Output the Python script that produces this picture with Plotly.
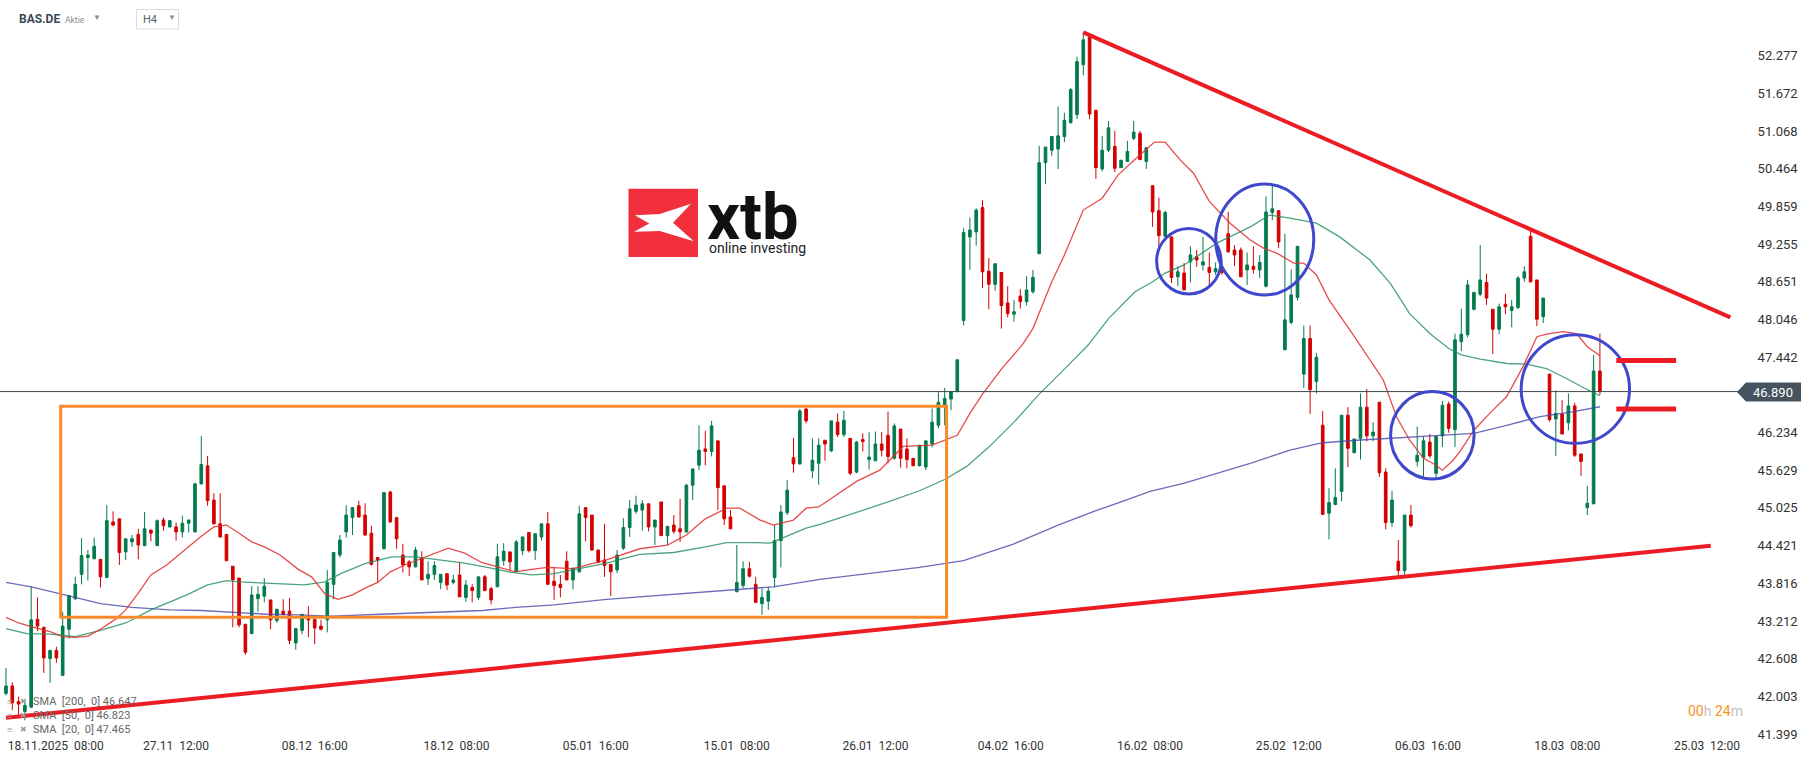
import plotly.graph_objects as go

# ---------------- DATA ----------------
FIRST_BAR = -5  # bar index of the first visible H4 candle (bar 0 = 18.11.2025 08:00)

opens = [
    42.05, 42.17, 41.92, 41.76, 41.83, 43.24, 43.11, 42.61, 42.74, 42.34,
    43.08, 43.57, 43.96, 44.23, 44.21, 44.20, 43.91, 44.80, 44.85, 44.32,
    44.48, 44.60, 44.42, 44.67, 44.42, 44.83, 44.72, 44.72, 44.64, 44.78,
    44.64, 45.41, 45.70, 45.15, 44.77, 44.60, 44.09, 43.90, 43.16, 43.01,
    43.57, 43.61, 43.55, 43.22, 43.37, 43.37, 42.86, 43.06, 43.25, 43.24,
    43.13, 43.23, 43.80, 44.27, 44.64, 44.87, 45.06, 44.91, 44.62, 44.23,
    44.37, 45.28, 44.87, 44.27, 44.16, 44.08, 44.22, 43.89, 43.96, 43.83,
    43.97, 43.83, 43.95, 43.59, 43.75, 43.59, 43.92, 43.73, 43.76, 44.18,
    44.32, 44.01, 44.34, 44.63, 44.34, 44.56, 44.77, 43.85, 43.80, 44.17,
    43.87, 44.00, 45.03, 44.91, 44.35, 44.19, 44.12, 44.03, 44.38, 44.71,
    44.97, 44.99, 45.09, 44.72, 45.12, 44.58, 44.75, 44.69, 44.64, 45.39,
    45.71, 45.97, 45.93, 46.10, 45.38, 44.88, 43.68, 43.78, 44.05, 43.80,
    43.49, 43.53, 43.91, 44.50, 44.95, 45.83, 45.73, 46.61, 45.62, 45.74,
    46.11, 45.94, 46.40, 46.20, 46.14, 45.60, 46.12, 45.80, 45.78, 46.05,
    46.19, 45.82, 46.29, 45.97, 45.82, 45.70, 45.68, 46.05, 46.35, 46.67,
    46.77, 46.89, 48.03, 49.37, 49.45, 49.84, 48.82, 48.61, 48.80, 48.31,
    48.13, 48.42, 48.33, 48.49, 49.10, 50.56, 50.76, 50.78, 50.98, 51.20,
    51.33, 52.13, 52.57, 51.40, 50.46, 50.76, 50.82, 50.48, 50.58, 50.95,
    51.03, 50.58, 50.19, 49.79, 49.38, 49.37, 48.73, 48.79, 48.97, 49.05,
    48.92, 48.88, 48.81, 48.86, 49.42, 49.16, 49.16, 48.84, 48.90, 48.84,
    48.58, 49.76, 49.79, 47.56, 48.00, 48.40, 47.17, 47.74, 47.05, 46.35,
    44.94, 45.08, 45.29, 46.51, 45.91, 46.14, 46.64, 46.18, 46.72, 45.60,
    44.79, 44.17, 44.02, 44.91, 45.77, 45.83, 46.08, 45.58, 46.18, 46.69,
    46.28, 47.69, 47.80, 48.21, 48.45, 48.64, 48.21, 47.89, 48.29, 48.19,
    48.24, 48.71, 49.38, 48.68, 48.09, 47.17, 46.45, 46.53, 46.39, 46.66,
    45.89, 45.03, 45.09, 47.22,
]
highs = [
    42.46, 42.23, 42.00, 41.94, 43.77, 43.59, 43.12, 42.75, 42.80, 43.36,
    43.62, 43.92, 44.54, 44.35, 44.55, 44.20, 45.07, 44.97, 44.85, 44.53,
    44.59, 44.69, 44.96, 44.67, 44.84, 44.87, 44.83, 44.79, 44.90, 44.84,
    45.43, 46.18, 45.86, 45.26, 45.26, 44.60, 44.09, 43.90, 43.16, 43.77,
    43.77, 43.90, 43.55, 43.40, 43.56, 43.58, 43.09, 43.32, 43.45, 43.24,
    43.23, 44.03, 44.31, 44.59, 45.07, 45.03, 45.14, 45.10, 44.74, 44.23,
    45.27, 45.30, 44.88, 44.45, 44.19, 44.40, 44.33, 44.17, 44.17, 43.96,
    43.97, 43.95, 44.15, 43.87, 43.80, 43.92, 43.95, 43.76, 44.45, 44.46,
    44.32, 44.51, 44.56, 44.63, 44.61, 44.77, 44.96, 44.08, 43.95, 44.33,
    44.06, 45.06, 45.03, 44.91, 44.35, 44.77, 44.12, 44.35, 44.86, 45.15,
    45.22, 45.15, 45.09, 44.83, 45.12, 44.73, 44.91, 45.17, 45.41, 45.65,
    46.35, 46.26, 46.42, 46.10, 45.38, 44.99, 44.43, 44.17, 44.16, 43.92,
    43.73, 43.76, 44.75, 45.07, 45.47, 46.15, 46.61, 46.63, 46.14, 46.14,
    46.11, 46.42, 46.54, 46.58, 46.14, 46.10, 46.22, 46.24, 46.25, 46.24,
    46.57, 46.38, 46.29, 46.14, 45.82, 46.03, 46.10, 46.62, 46.90, 46.95,
    46.89, 47.40, 49.51, 49.68, 49.83, 49.96, 49.03, 48.94, 48.80, 48.58,
    48.36, 48.53, 48.74, 48.84, 50.83, 50.81, 50.98, 51.46, 51.36, 51.76,
    52.26, 52.65, 52.57, 51.40, 50.99, 51.23, 51.07, 50.60, 50.91, 51.23,
    51.07, 50.80, 50.19, 50.00, 49.79, 49.37, 48.90, 48.95, 49.22, 49.16,
    49.37, 49.12, 48.96, 48.99, 49.77, 49.24, 49.20, 49.12, 49.22, 49.08,
    50.02, 50.21, 49.79, 49.42, 48.85, 49.22, 47.95, 47.95, 47.51, 46.58,
    45.34, 45.66, 46.51, 46.64, 46.13, 46.86, 46.93, 46.40, 46.72, 45.66,
    45.30, 44.51, 44.91, 45.07, 46.33, 46.17, 46.21, 46.17, 46.74, 46.73,
    47.82, 48.22, 48.68, 48.48, 49.24, 48.78, 48.21, 48.30, 48.46, 48.36,
    48.74, 48.90, 49.48, 48.68, 48.39, 47.17, 46.91, 46.75, 46.86, 46.71,
    45.89, 45.38, 47.48, 47.82,
]
lows = [
    42.02, 41.78, 41.70, 41.62, 41.82, 43.05, 42.38, 42.22, 42.54, 42.33,
    42.93, 43.55, 43.80, 43.86, 44.20, 43.75, 43.90, 44.73, 44.11, 44.19,
    44.40, 44.20, 44.41, 44.49, 44.42, 44.66, 44.71, 44.50, 44.55, 44.63,
    44.63, 45.40, 45.06, 44.76, 44.55, 44.17, 43.11, 43.11, 42.67, 43.00,
    43.36, 43.51, 43.08, 43.18, 43.30, 42.84, 42.75, 43.00, 42.95, 42.84,
    43.06, 43.03, 43.56, 44.23, 44.55, 44.59, 44.87, 44.58, 44.10, 43.84,
    44.36, 44.79, 44.37, 43.99, 43.93, 44.07, 43.87, 43.79, 43.87, 43.72,
    43.71, 43.80, 43.60, 43.52, 43.51, 43.55, 43.69, 43.48, 43.76, 44.10,
    44.02, 44.00, 44.27, 44.31, 44.19, 44.50, 43.80, 43.55, 43.59, 43.87,
    43.72, 43.99, 44.49, 44.34, 44.14, 43.92, 43.61, 43.98, 44.35, 44.56,
    44.93, 44.66, 44.65, 44.43, 44.58, 44.43, 44.61, 44.48, 44.63, 45.15,
    45.63, 45.71, 45.85, 44.99, 44.75, 44.69, 43.68, 43.74, 43.91, 43.50,
    43.31, 43.39, 43.76, 44.07, 44.91, 45.59, 45.72, 46.38, 45.50, 45.40,
    45.78, 45.92, 46.16, 46.16, 45.55, 45.58, 45.93, 45.64, 45.78, 45.85,
    45.74, 45.80, 45.67, 45.66, 45.70, 45.69, 45.63, 46.00, 46.30, 46.35,
    46.59, 46.88, 47.95, 48.84, 49.23, 48.55, 48.21, 48.51, 47.90, 48.08,
    48.01, 48.22, 48.27, 48.46, 49.10, 50.22, 50.67, 50.46, 50.89, 51.19,
    51.26, 51.96, 51.26, 50.30, 50.42, 50.73, 50.41, 50.48, 50.57, 50.92,
    50.60, 50.46, 49.53, 49.21, 49.37, 48.63, 48.58, 48.52, 48.64, 48.89,
    48.83, 48.55, 48.76, 48.76, 49.12, 48.90, 48.73, 48.60, 48.78, 48.71,
    48.56, 49.64, 49.19, 47.56, 47.97, 48.35, 46.95, 46.53, 46.86, 44.92,
    44.52, 45.07, 45.13, 45.68, 45.90, 45.80, 46.09, 46.09, 45.52, 44.68,
    44.72, 43.90, 43.95, 44.71, 45.69, 45.53, 45.83, 45.50, 46.00, 46.23,
    46.00, 47.54, 47.76, 48.19, 48.42, 48.28, 47.49, 47.81, 48.13, 47.92,
    48.21, 48.65, 48.64, 47.94, 47.99, 46.41, 45.86, 46.21, 46.27, 45.84,
    45.54, 44.91, 45.09, 46.84,
]
closes = [
    42.17, 41.90, 41.88, 41.86, 43.23, 43.13, 42.62, 42.74, 42.62, 43.13,
    43.62, 43.80, 44.26, 44.27, 44.41, 43.92, 44.82, 44.75, 44.31, 44.53,
    44.53, 44.43, 44.69, 44.62, 44.82, 44.74, 44.82, 44.64, 44.78, 44.83,
    45.41, 45.72, 45.14, 44.77, 44.56, 44.18, 43.87, 43.15, 42.71, 43.63,
    43.64, 43.77, 43.23, 43.40, 43.32, 42.90, 43.09, 43.32, 43.23, 43.10,
    43.08, 43.83, 44.31, 44.51, 44.91, 45.03, 44.88, 44.59, 44.12, 44.19,
    45.27, 44.80, 44.53, 44.11, 44.08, 44.35, 43.87, 43.96, 44.10, 43.96,
    43.79, 43.87, 43.60, 43.79, 43.70, 43.92, 43.70, 43.55, 44.24, 44.33,
    44.16, 44.48, 44.56, 44.34, 44.61, 44.77, 43.80, 43.78, 43.75, 43.87,
    44.06, 44.93, 44.87, 44.35, 44.15, 44.10, 44.00, 44.27, 44.71, 45.01,
    45.07, 45.09, 44.72, 44.83, 44.58, 44.73, 44.65, 44.64, 45.39, 45.65,
    45.95, 45.93, 46.34, 45.35, 44.85, 44.69, 43.83, 44.05, 43.93, 43.51,
    43.59, 43.69, 44.50, 44.96, 45.31, 45.73, 46.58, 46.42, 45.79, 46.03,
    46.05, 46.42, 46.20, 46.43, 45.58, 46.08, 46.09, 45.84, 46.05, 45.95,
    45.85, 46.34, 45.82, 45.80, 45.70, 46.03, 46.10, 46.40, 46.72, 46.78,
    46.89, 47.40, 49.44, 49.48, 49.80, 48.81, 48.61, 48.94, 48.27, 48.14,
    48.17, 48.33, 48.52, 48.72, 50.56, 50.81, 50.98, 50.99, 51.24, 51.73,
    52.18, 52.53, 51.34, 50.48, 50.76, 51.12, 50.47, 50.60, 50.74, 51.05,
    50.61, 50.80, 49.77, 49.39, 49.76, 48.72, 48.81, 48.52, 49.08, 49.00,
    48.97, 48.80, 48.86, 48.80, 49.13, 49.08, 48.73, 48.92, 48.85, 48.96,
    49.77, 49.82, 49.29, 48.04, 48.44, 49.22, 47.74, 46.92, 47.44, 44.92,
    45.11, 45.19, 46.51, 45.98, 46.13, 46.64, 46.18, 46.24, 45.59, 44.79,
    45.15, 44.02, 44.91, 44.74, 45.87, 46.10, 45.86, 46.17, 46.67, 46.30,
    47.72, 47.81, 48.60, 48.48, 48.68, 48.39, 47.89, 48.25, 48.25, 48.25,
    48.71, 48.81, 48.65, 48.05, 48.39, 46.44, 46.54, 46.21, 46.66, 45.87,
    45.77, 45.10, 47.22, 46.89,
]
bar_index = list(range(FIRST_BAR, FIRST_BAR + len(opens)))

# moving averages as drawn on the chart (bar index, price)
sma20_x = [-5, -3, -1, 2, 4, 6, 8, 10, 12.5, 14, 16, 18, 20.5, 23, 26, 28, 30, 32, 34, 36,
           38.5, 41.4, 43.5, 45.6, 47.7, 50, 52, 54, 56, 58.3, 60.4, 62.6, 65.2, 67.8, 70.5,
           73, 75.8, 78.4, 81, 85, 90.3, 95.6, 100, 103, 106, 109.4, 111.5, 114.7, 116.8, 120,
           122, 124, 127, 130, 133.7, 137.4, 142, 146, 148, 150, 153, 156.4, 158, 161, 163,
           166, 169, 171.5, 174.7, 177.3, 179, 181.4, 183.5, 186, 189.3, 192.5, 194.6, 196.7,
           199.4, 201, 203, 205, 208.3, 211.5, 213.6, 215.7, 217.8, 220, 222, 223, 224.7,
           225.8, 228, 230.5, 233.2, 235.8, 238, 239.5, 242.2, 244.3, 246, 248]
sma20_y = [43.27, 43.18, 43.12, 43.04, 42.96, 42.95, 42.97, 43.08, 43.25, 43.39, 43.66, 43.95,
           44.11, 44.32, 44.57, 44.72, 44.75, 44.62, 44.48, 44.40, 44.27, 44.04, 43.92, 43.65,
           43.56, 43.63, 43.74, 43.83, 44.00, 44.11, 44.19, 44.27, 44.38, 44.30, 44.15, 44.08,
           44.00, 44.04, 44.07, 44.05, 44.19, 44.37, 44.43, 44.59, 44.85, 45.02, 45.02, 44.83,
           44.75, 44.83, 45.02, 45.04, 45.25, 45.45, 45.63, 46.01, 46.03, 46.19, 46.54, 46.85,
           47.25, 47.65, 47.90, 48.65, 49.08, 49.80, 49.99, 50.36, 50.66, 50.89, 50.89, 50.60,
           50.39, 49.94, 49.59, 49.32, 49.19, 49.11, 48.95, 48.95, 48.76, 48.36, 47.88, 47.40,
           47.08, 46.49, 46.11, 45.82, 45.71, 45.63, 45.79, 45.93, 46.27, 46.54, 46.81, 47.29,
           47.77, 47.81, 47.85, 47.82, 47.61, 47.465]

sma50_x = [-5, -1.7, 2, 6, 10, 14, 18, 20.5, 23.7, 27, 30, 32, 36, 39.3, 42.4, 45.6, 48.3, 52,
           56.2, 60, 63.6, 67.8, 72, 75.3, 78.4, 82, 85, 90.3, 95.6, 101, 106, 109.4, 114,
           116.3, 118.4, 122, 124.2, 130, 135, 140, 144, 147.5, 151, 155, 159, 163, 166.8, 170,
           174.2, 177, 179, 182, 187.2, 192.5, 195.6, 198.8, 203, 206.7, 211.5, 214.7, 217.8,
           221, 224, 226, 229, 233.2, 236.4, 239.5, 242.7, 246, 248]
sma50_y = [43.09, 43.01, 43.00, 42.96, 43.06, 43.18, 43.39, 43.50, 43.63, 43.79, 43.86, 43.84,
           43.82, 43.80, 43.79, 43.84, 43.98, 44.13, 44.24, 44.24, 44.19, 44.14, 44.06, 43.99,
           43.95, 43.97, 44.03, 44.14, 44.28, 44.31, 44.40, 44.47, 44.47, 44.46, 44.55, 44.70,
           44.76, 44.95, 45.12, 45.30, 45.48, 45.69, 46.00, 46.40, 46.85, 47.25, 47.64, 48.06,
           48.49, 48.65, 48.79, 48.92, 49.27, 49.53, 49.72, 49.67, 49.59, 49.37, 49.00, 48.63,
           48.14, 47.82, 47.58, 47.48, 47.41, 47.34, 47.33, 47.26, 47.10, 46.92, 46.823]

sma200_x = [-5, -1, 4, 10, 15, 21, 26, 31, 36.5, 41.3, 46.6, 54.6, 60, 65.3, 70.6, 75.9, 82,
            90.3, 101, 111.5, 116.8, 124.2, 132, 140, 147, 155, 162, 168, 172, 176.6, 181.9,
            187.2, 192.5, 198.8, 204, 209.4, 214.7, 220, 223, 228, 233.2, 238.5, 243.8, 248]
sma200_y = [43.83, 43.76, 43.64, 43.49, 43.43, 43.39, 43.38, 43.35, 43.32, 43.31, 43.29, 43.32,
            43.34, 43.36, 43.38, 43.43, 43.47, 43.56, 43.64, 43.72, 43.76, 43.88, 43.97, 44.07,
            44.18, 44.45, 44.75, 44.98, 45.12, 45.29, 45.42, 45.58, 45.74, 45.95, 46.07, 46.11,
            46.14, 46.17, 46.18, 46.22, 46.35, 46.49, 46.57, 46.647]

sma_labels = ["SMA  [200,  0] 46.647", "SMA  [50,  0] 46.823", "SMA  [20,  0] 47.465"]

current_price = 46.890

# price axis ticks
price_ticks = [52.277, 51.672, 51.068, 50.464, 49.859, 49.255, 48.651, 48.046, 47.442,
               46.234, 45.629, 45.025, 44.421, 43.816, 43.212, 42.608, 42.003, 41.399]
# time axis ticks (bar index, label)
time_tick_pos = [2.9, 22, 44, 66.5, 88.6, 111, 133, 154.5, 176.6, 198.6, 220.7, 242.8, 265]
time_tick_text = ["18.11.2025  08:00", "27.11  12:00", "08.12  16:00", "18.12  08:00",
                  "05.01  16:00", "15.01  08:00", "26.01  12:00", "04.02  16:00",
                  "16.02  08:00", "25.02  12:00", "06.03  16:00", "18.03  08:00",
                  "25.03  12:00"]

# drawings on the chart (bar index, price)
upper_trend = [(166.0, 52.65), (268.7, 48.08)]
lower_trend = [(-5.0, 41.66), (265.6, 44.42)]
range_box = [(3.68, 43.27), (144.3, 46.654)]
circles = [  # centre bar, centre price, half-width in bars, half-height in price
    (182.75, 48.98, 5.11, 0.526),
    (194.8, 49.33, 7.78, 0.89),
    (221.4, 46.19, 6.63, 0.70),
    (244.1, 46.93, 8.6, 0.87),
]
target_levels = [47.39, 46.61]
target_span = (250.6, 260.1)

X_RANGE = [-5.95, 271.03]
Y_RANGE = [41.304, 53.168]

# ---------------- STYLE ----------------
GREEN = "#047b4c"
RED = "#d40000"
W, H = 1815, 761
ML, MR, MT, MB = 0, 70, 0, 21
PW, PH = W - ML - MR, H - MT - MB


def px(x):
    return x / PW


def py(y):
    return 1 - y / PH


fig = go.Figure()

fig.add_trace(go.Candlestick(
    x=bar_index, open=opens, high=highs, low=lows, close=closes,
    increasing=dict(line=dict(color=GREEN, width=1), fillcolor=GREEN),
    decreasing=dict(line=dict(color=RED, width=1), fillcolor=RED),
    whiskerwidth=0, showlegend=False, hoverinfo="skip",
))

for xs, ys, col in [
    (sma200_x, sma200_y, "rgba(70,70,170,0.8)"),
    (sma50_x, sma50_y, "rgba(30,140,95,0.8)"),
    (sma20_x, sma20_y, "rgba(225,45,45,0.85)"),
]:
    fig.add_trace(go.Scatter(x=xs, y=ys, mode="lines", line=dict(color=col, width=1.3),
                             showlegend=False, hoverinfo="skip"))

shapes = []
# current price line
shapes.append(dict(type="line", xref="paper", yref="y", x0=0, x1=1, y0=current_price,
                   y1=current_price, line=dict(color="#3d4750", width=1), layer="above"))
# range rectangle
shapes.append(dict(type="rect", xref="x", yref="y", x0=range_box[0][0], x1=range_box[1][0],
                   y0=range_box[0][1], y1=range_box[1][1],
                   line=dict(color="#f98a2c", width=3), layer="above"))
# trend lines
for (a, b) in [upper_trend, lower_trend]:
    shapes.append(dict(type="line", xref="x", yref="y", x0=a[0], y0=a[1], x1=b[0], y1=b[1],
                       line=dict(color="#ec1c24", width=4), layer="above"))
# circles
for (cx, cy, rx, ry) in circles:
    shapes.append(dict(type="circle", xref="x", yref="y", x0=cx - rx, x1=cx + rx,
                       y0=cy - ry, y1=cy + ry, line=dict(color="#3f48cc", width=3),
                       layer="above"))
# target levels
for lvl in target_levels:
    shapes.append(dict(type="line", xref="x", yref="y", x0=target_span[0], x1=target_span[1],
                       y0=lvl, y1=lvl, line=dict(color="#ec1c24", width=5), layer="above"))

# price tag
tag_top, tag_bot = 382.5, 401.5
tag_mid = (tag_top + tag_bot) / 2
shapes.append(dict(type="path", xref="paper", yref="paper",
                   path=f"M {px(1737)},{py(tag_mid)} L {px(1746)},{py(tag_top)} "
                        f"L {px(1801)},{py(tag_top)} L {px(1801)},{py(tag_bot)} "
                        f"L {px(1746)},{py(tag_bot)} Z",
                   fillcolor="#45535e", line=dict(width=0), layer="above"))

# header: H4 box
shapes.append(dict(type="rect", xref="paper", yref="paper", x0=px(136.5), x1=px(178.5),
                   y0=py(29), y1=py(9.5), line=dict(color="#d8dcdf", width=1),
                   fillcolor="white", layer="above"))

# logo
L0, T0, LW, LH = 628.5, 188.7, 69.5, 68.3
shapes.append(dict(type="rect", xref="paper", yref="paper", x0=px(L0), x1=px(L0 + LW),
                   y0=py(T0 + LH), y1=py(T0), fillcolor="#f2303d", line=dict(width=0),
                   layer="above"))
x_pts = [(0.09, 0.39), (0.45, 0.37), (0.90, 0.22), (0.64, 0.50), (0.94, 0.77),
         (0.45, 0.62), (0.08, 0.63), (0.30, 0.51)]
path = "M " + " L ".join(f"{px(L0 + u * LW)},{py(T0 + v * LH)}" for u, v in x_pts) + " Z"
shapes.append(dict(type="path", xref="paper", yref="paper", path=path, fillcolor="white",
                   line=dict(width=0), layer="above"))

ann = []


def text(x, y, s, size, color, anchor="left", family="Roboto", yanchor="middle"):
    ann.append(dict(x=px(x), y=py(y), xref="paper", yref="paper", text=s, showarrow=False,
                    xanchor=anchor, yanchor=yanchor,
                    font=dict(size=size, color=color, family=family)))


text(1773, tag_mid, f"{current_price:.3f}", 13, "white", anchor="center")
text(17, 19, "<b>BAS.DE</b>", 12, "#3b4a56")
text(63, 20, "Aktie", 8.5, "#8a8f94")
text(91, 18, "▼", 8, "#8a8f94")
text(141, 20, "H4", 11, "#55606a")
text(166, 18, "▼", 8, "#8a8f94")
text(705, 217, "<b>xtb</b>", 65, "#111111", family="Roboto")
text(707, 248, "online investing", 14, "#222222", family="Roboto")

for k, lab in enumerate(sma_labels):
    yy = 701 + k * 14
    text(5, yy, "≡", 10, "#9aa0a6")
    text(18, yy, "✖", 8, "#9aa0a6")
    text(31, yy, lab, 11, "#666666")

text(1745, 711,
     '<span style="color:#f7931e">00</span><span style="color:#c0c0c0">h </span>'
     '<span style="color:#f7931e">24</span><span style="color:#c0c0c0">m</span>',
     14, "#f7931e", anchor="right")

fig.update_layout(
    width=W, height=H, autosize=False,
    margin=dict(l=ML, r=MR, t=MT, b=MB),
    paper_bgcolor="white", plot_bgcolor="white",
    font=dict(family="Roboto", color="#333333"),
    showlegend=False, boxgap=0.4,
    shapes=shapes, annotations=ann,
    xaxis=dict(range=X_RANGE, tickvals=time_tick_pos, ticktext=time_tick_text,
               showgrid=False, zeroline=False, showline=False, ticks="",
               ticklabelstandoff=-3,
               tickfont=dict(size=12, color="#333333", family="Roboto"),
               rangeslider=dict(visible=False), fixedrange=True),
    yaxis=dict(range=Y_RANGE, side="right", tickvals=price_ticks,
               ticktext=[f"{v:.3f}" for v in price_ticks],
               showgrid=False, zeroline=False, showline=False, ticks="outside",
               ticklen=9, tickcolor="rgba(0,0,0,0)",
               tickfont=dict(size=13, color="#333333", family="Roboto"), fixedrange=True),
)

fig.write_html("out.html", config={"displayModeBar": False},
               post_script="document.body.style.margin='0';")
